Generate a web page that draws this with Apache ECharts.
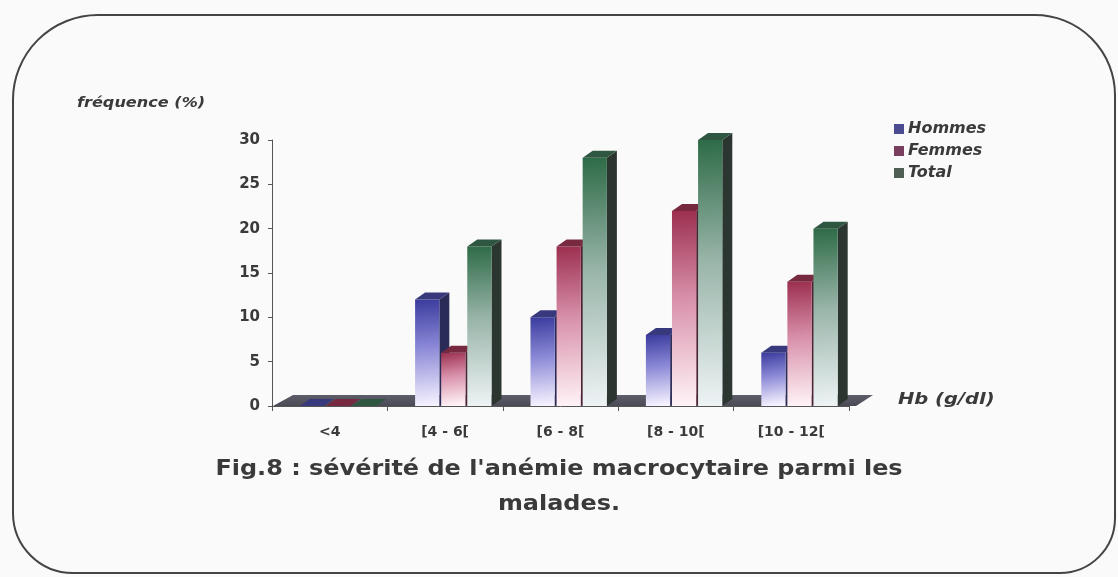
<!DOCTYPE html>
<html>
<head>
<meta charset="utf-8">
<script src="https://cdn.jsdelivr.net/npm/echarts@6/dist/echarts.min.js"></script>
<style>
  html, body { margin: 0; padding: 0; background: #fafafa; }
  #chart { width: 1118px; height: 577px; }
</style>
</head>
<body>
<div id="chart"></div>
<script>
// Hb classes (g/dl) and frequencies (%) by group
const categories = ['<4', '[4 - 6[', '[6 - 8[', '[8 - 10[', '[10 - 12['];
const hommes = [0, 12, 10, 8, 6];
const femmes = [0, 6, 18, 22, 14];
const total  = [0, 18, 28, 30, 20];
const yTicks = [0, 5, 10, 15, 20, 25, 30];

const seriesNames = ['Hommes', 'Femmes', 'Total'];
const seriesValues = [hommes, femmes, total];

// shading for each group: front gradient, top face, side face, legend swatch
const palettes = [
  { top: '#3b3b9e', mid: '#8a88d6', low: '#f6f2ff', cap: '#38387c', side: '#2b2b58', swatch: '#4b4b92' },
  { top: '#9c2f50', mid: '#d890aa', low: '#fff3f7', cap: '#76293f', side: '#4c2433', swatch: '#7a3f5f' },
  { top: '#2e6b47', mid: '#98b4a8', low: '#eef3f5', cap: '#2f5640', side: '#2c3631', swatch: '#4f5f53' }
];

const DX = 10, DY = -7;   // depth offset of the 3D bars

function barRenderer(idx) {
  const p = palettes[idx];
  return function (params, api) {
    const cat = api.value(0), val = api.value(1);
    const base = api.coord([cat, 0]);
    const top = api.coord([cat, val]);
    const bw = api.size([1, 0])[0];
    const w = bw * 0.21;
    const x = base[0] - bw * 0.26 + idx * bw * 0.226;
    const y0 = base[1], y1 = top[1];
    const h = Math.max(y0 - y1, 0);
    const children = [];
    children.push({
      type: 'polygon',
      shape: { points: [[x + w, y1], [x + w + DX, y1 + DY], [x + w + DX, y0 + DY], [x + w, y0]] },
      style: { fill: p.side }
    });
    if (h > 0) {
      children.push({
        type: 'rect',
        shape: { x: x, y: y1, width: w, height: h },
        style: {
          fill: new echarts.graphic.LinearGradient(0, 0, 0.35, 1, [
            { offset: 0, color: p.top },
            { offset: 0.45, color: p.mid },
            { offset: 1, color: p.low }
          ])
        }
      });
    }
    children.push({
      type: 'polygon',
      shape: { points: [[x, y1], [x + DX, y1 + DY], [x + w + DX, y1 + DY], [x + w, y1]] },
      style: { fill: p.cap }
    });
    return { type: 'group', children: children };
  };
}

// floor plane under the bars, spanning all classes
function floorRenderer(params, api) {
  const bw = api.size([1, 0])[0];
  const first = api.coord([0, 0]);
  const last = api.coord([categories.length - 1, 0]);
  const xl = first[0] - bw / 2, xr = last[0] + bw / 2, y = first[1];
  return {
    type: 'polygon',
    shape: { points: [[xl + 1, y], [xl + 21, y - 11], [xr + 24, y - 11], [xr + 7, y]] },
    style: {
      fill: new echarts.graphic.LinearGradient(0, 0, 0, 1, [
        { offset: 0, color: '#5e5e6a' },
        { offset: 1, color: '#4a4a55' }
      ])
    }
  };
}

const FONT = 'DejaVu Sans';
const TEXT = '#3a3a3a';

const series = [{
  type: 'custom',
  renderItem: floorRenderer,
  data: [[0, 0]],
  encode: { x: 0, y: 1 },
  silent: true,
  z: 1
}];
seriesNames.forEach(function (name, i) {
  series.push({
    name: name,
    type: 'custom',
    renderItem: barRenderer(i),
    data: seriesValues[i].map(function (v, k) { return [k, v]; }),
    encode: { x: 0, y: 1 },
    itemStyle: { color: palettes[i].swatch },
    z: 2 + i
  });
});

// spread-out bold lettering used for the caption and axis names
function wideText(str, x, y, size, align, stretch, italic) {
  return {
    type: 'text',
    x: x, y: y,
    scaleX: stretch,
    silent: true,
    style: {
      text: str, fontFamily: FONT, fontSize: size, fontWeight: 'bold',
      fontStyle: italic ? 'italic' : 'normal', fill: TEXT,
      align: align, verticalAlign: 'middle'
    }
  };
}

const chart = echarts.init(document.getElementById('chart'), null, { renderer: 'canvas' });
chart.setOption({
  backgroundColor: '#fafafa',
  animation: false,
  legend: {
    data: seriesNames,
    orient: 'vertical',
    left: 889,
    top: 116,
    itemWidth: 10,
    itemHeight: 10,
    itemGap: 6,
    icon: 'rect',
    textStyle: { fontFamily: FONT, fontSize: 16, fontWeight: 'bold', fontStyle: 'italic', color: TEXT, padding: [0, 0, 0, -1] }
  },
  grid: { left: 272, right: 269, top: 140, bottom: 171, containLabel: false },
  xAxis: {
    type: 'category',
    data: categories,
    offset: 3,
    axisLine: { lineStyle: { color: '#555', width: 1 } },
    axisTick: { show: true, length: 5, lineStyle: { color: '#555' } },
    axisLabel: { margin: 16, fontFamily: FONT, fontSize: 14, fontWeight: 'bold', color: TEXT }
  },
  yAxis: {
    type: 'value',
    min: 0,
    max: 30,
    interval: 5,
    axisLine: { show: true, lineStyle: { color: '#555', width: 1 } },
    axisTick: { show: true, length: 4, lineStyle: { color: '#555' } },
    splitLine: { show: false },
    axisLabel: {
      margin: 12,
      fontFamily: FONT, fontSize: 15, fontWeight: 'bold', color: TEXT,
      formatter: function (v) { return yTicks.indexOf(v) >= 0 ? String(v) : ''; }
    }
  },
  graphic: [
    {
      type: 'rect',
      shape: { x: 13, y: 15, width: 1102, height: 558, r: [85, 80, 55, 60] },
      style: { fill: 'none', stroke: '#444', lineWidth: 2 },
      silent: true,
      z: 0
    },
    wideText('fréquence (%)', 77, 103, 14, 'left', 1.15, true),
    wideText('Hb (g/dl)', 898, 400, 15, 'left', 1.3, true),
    wideText("Fig.8 : sévérité de l'anémie macrocytaire parmi les", 559, 470, 21, 'center', 1.14, false),
    wideText('malades.', 559, 505, 21, 'center', 1.14, false)
  ],
  series: series
});
</script>
</body>
</html>
